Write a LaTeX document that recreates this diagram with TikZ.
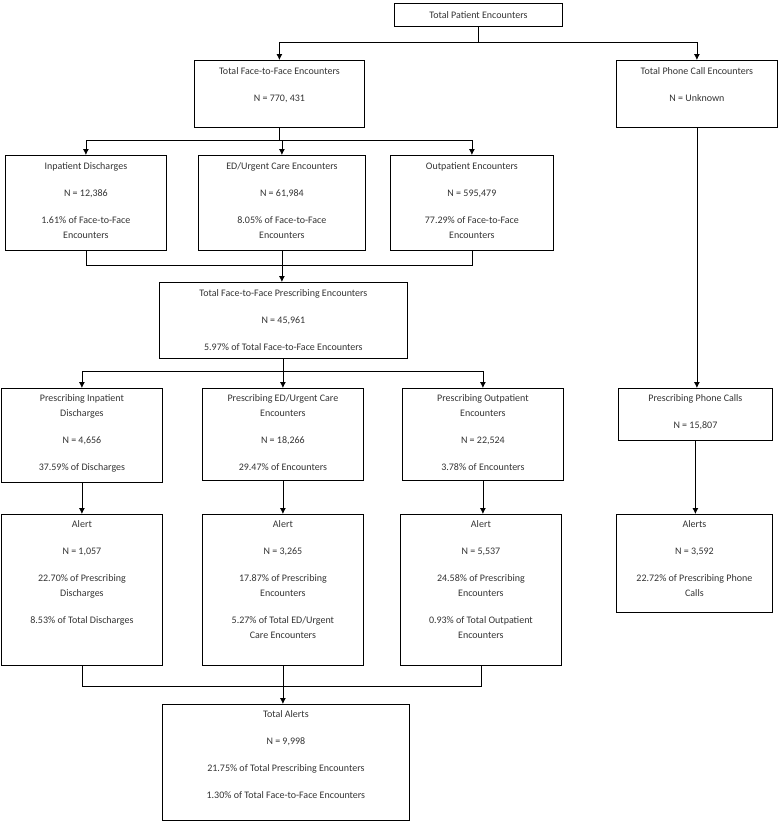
\documentclass[tikz,border=0pt]{standalone}
\usepackage{fontspec}
\setmainfont{Carlito}
\usetikzlibrary{arrows.meta, positioning}

\tikzset{
  box/.style={draw, line width=0.8pt, rectangle, inner sep=0pt, anchor=north west},
  txt/.style={inner sep=0pt, anchor=north, align=center, text=black!80,
              font=\fontsize{10}{15}\selectfont},
  arr/.style={line width=0.8pt, -{Latex[length=6pt,width=6pt]}},
  lin/.style={line width=0.8pt}
}

\begin{document}
\begin{tikzpicture}[x=1pt, y=-1pt]
		\useasboundingbox (0,0) rectangle (778,822);
		%top
			\node [box, minimum width=168, minimum height=23, txt, anchor=north west] (tpe) at (394,3) {Total Patient Encounters};
			\node [box, minimum width=170, minimum height=67] (f2f) at (194,60) {};
			\node [txt, below=7pt of f2f.north] (f2f-t) {Total Face-to-Face Encounters\\[12pt]N = 770, 431};
			\node [box, minimum width=161, minimum height=67] (phone) at (616,60) {};
			\node [txt, below=7pt of phone.north] (phone-t) {Total Phone Call Encounters\\[12pt]N = Unknown};
		%encounter types
			\node [box, minimum width=161, minimum height=95] (inpat) at (5,155) {};
			\node [txt, below=7pt of inpat.north] (inpat-t) {Inpatient Discharges\\[12pt]N = 12,386\\[12pt]1.61\% of Face-to-Face\\Encounters};
			\node [box, minimum width=167, minimum height=95] (ed) at (198,155) {};
			\node [txt, below=7pt of ed.north] (ed-t) {ED/Urgent Care Encounters\\[12pt]N = 61,984\\[12pt]8.05\% of Face-to-Face\\Encounters};
			\node [box, minimum width=163, minimum height=95] (outpat) at (390,155) {};
			\node [txt, below=7pt of outpat.north] (outpat-t) {Outpatient Encounters\\[12pt]N = 595,479\\[12pt]77.29\% of Face-to-Face\\Encounters};
		%prescribing
			\node [box, minimum width=248, minimum height=76] (presc) at (159,282) {};
			\node [txt, below=7pt of presc.north] (presc-t) {Total Face-to-Face Prescribing Encounters\\[12pt]N = 45,961\\[12pt]5.97\% of Total Face-to-Face Encounters};
			\node [box, minimum width=161, minimum height=94] (pinpat) at (1,388) {};
			\node [txt, below=6pt of pinpat.north] (pinpat-t) {Prescribing Inpatient\\Discharges\\[12pt]N = 4,656\\[12pt]37.59\% of Discharges};
			\node [box, minimum width=161, minimum height=92] (ped) at (202,388) {};
			\node [txt, below=6pt of ped.north] (ped-t) {Prescribing ED/Urgent Care\\Encounters\\[12pt]N = 18,266\\[12pt]29.47\% of Encounters};
			\node [box, minimum width=161, minimum height=92] (pout) at (402,388) {};
			\node [txt, below=6pt of pout.north] (pout-t) {Prescribing Outpatient\\Encounters\\[12pt]N = 22,524\\[12pt]3.78\% of Encounters};
			\node [box, minimum width=154, minimum height=52] (pphone) at (618,388) {};
			\node [txt, below=6pt of pphone.north] (pphone-t) {Prescribing Phone Calls\\[12pt]N = 15,807};
		%alerts
			\node [box, minimum width=161, minimum height=151] (al1) at (1,514) {};
			\node [txt, below=6pt of al1.north] (al1-t) {Alert\\[12pt]N = 1,057\\[12pt]22.70\% of Prescribing\\Discharges\\[12pt]8.53\% of Total Discharges};
			\node [box, minimum width=161, minimum height=151] (al2) at (202,514) {};
			\node [txt, below=6pt of al2.north] (al2-t) {Alert\\[12pt]N = 3,265\\[12pt]17.87\% of Prescribing\\Encounters\\[12pt]5.27\% of Total ED/Urgent\\Care Encounters};
			\node [box, minimum width=161, minimum height=151] (al3) at (400,514) {};
			\node [txt, below=6pt of al3.north] (al3-t) {Alert\\[12pt]N = 5,537\\[12pt]24.58\% of Prescribing\\Encounters\\[12pt]0.93\% of Total Outpatient\\Encounters};
			\node [box, minimum width=156, minimum height=98] (alph) at (616,514) {};
			\node [txt, below=6pt of alph.north] (alph-t) {Alerts\\[12pt]N = 3,592\\[12pt]22.72\% of Prescribing Phone\\Calls};
			\node [box, minimum width=247, minimum height=116] (total) at (162,704) {};
			\node [txt, below=6pt of total.north] (total-t) {Total Alerts\\[12pt]N = 9,998\\[12pt]21.75\% of Total Prescribing Encounters\\[12pt]1.30\% of Total Face-to-Face Encounters};
		%connectors
			\draw [lin] (tpe.south) -- ++(0,16) coordinate (split1);
			\draw [arr] (split1) -| (f2f.north);
			\draw [arr] (split1) -| (phone.north);
			\draw [lin] (f2f.south) -- ++(0,13) coordinate (split2);
			\draw [arr] (split2) -| (inpat.north);
			\draw [arr] (split2) -| (ed.north);
			\draw [arr] (split2) -| (outpat.north);
			\draw [lin] (inpat.south) -- ++(0,15) -| (outpat.south);
			\draw [arr] (ed.south) -- (ed.south |- presc.north);
			\draw [lin] (presc.south) -- ++(0,13) coordinate (split3);
			\draw [arr] (split3) -| (pinpat.north);
			\draw [arr] (split3) -| (ped.north);
			\draw [arr] (split3) -| (pout.north);
			\draw [arr] (pinpat.south) -- (pinpat.south |- al1.north);
			\draw [arr] (ped.south) -- (ped.south |- al2.north);
			\draw [arr] (pout.south) -- (pout.south |- al3.north);
			\draw [arr] (phone.south) -- (phone.south |- pphone.north);
			\draw [arr] (pphone.south) -- (pphone.south |- alph.north);
			\draw [lin] (al1.south) -- ++(0,21) -| (al3.south);
			\draw [arr] (al2.south) -- (al2.south |- total.north);
		\end{tikzpicture}
\end{document}
